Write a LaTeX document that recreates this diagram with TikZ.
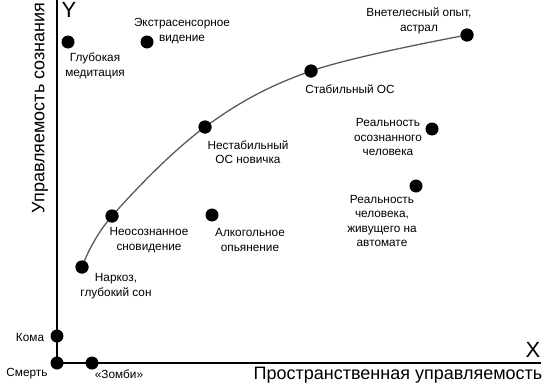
\documentclass[tikz,border=0pt]{standalone}
\usepackage{fontspec}
\setmainfont{Liberation Sans}
\usetikzlibrary{positioning}

\tikzset{
  dot/.style={circle, fill=black, inner sep=0pt, minimum size=13pt},
  lbl/.style={align=center, inner sep=0pt, font=\fontsize{11.8}{14.5}\selectfont},
  axtitle/.style={inner sep=0pt, font=\fontsize{18}{20}\selectfont},
  axletter/.style={inner sep=0pt, font=\fontsize{22}{24}\selectfont},
}

\begin{document}
\begin{tikzpicture}[x=1pt,y=-1pt]
\useasboundingbox (0,0) rectangle (548,388);
% axes
\coordinate (ytop) at (57,0);
\coordinate (xend) at (541,363);
\node[dot] (death) at (57,363) {};
\draw[line width=2.3pt] (ytop) -- (death.center) -- (xend);
\node[axletter] (ylet) at (69,10) {Y};
\node[axletter] (xlet) at (533,350) {X};
\node[axtitle, rotate=90] (ytitle) at (40,108) {Управляемость сознания};
\node[axtitle] (xtitle) at (398,375) {Пространственная управляемость};
% curve
\node[dot] (narkoz) at (82,267) {};
\node[dot] (dream) at (112,216) {};
\node[dot] (novice) at (205,127) {};
\node[dot] (stable) at (311,71) {};
\node[dot] (astral) at (467,35) {};
\draw[gray!70!black, line width=1.3pt] plot[smooth, tension=0.6] coordinates
  {(narkoz.center) (dream.center) (novice.center) (stable.center) (astral.center)};
\node[dot] (narkoz) at (82,267) {};
\node[dot] (dream) at (112,216) {};
\node[dot] (novice) at (205,127) {};
\node[dot] (stable) at (311,71) {};
\node[dot] (astral) at (467,35) {};
% other points
\node[dot] (coma) at (57,336) {};
\node[dot] (zombie) at (92,363) {};
\node[dot] (medit) at (68,42) {};
\node[dot] (extra) at (147,42) {};
\node[dot] (alco) at (212,215) {};
\node[dot] (aware) at (432,129) {};
\node[dot] (auto) at (416,186) {};
% labels
\node[lbl] (deathlbl) at (27,374) {Смерть};
\node[lbl] (comalbl) at (30,337) {Кома};
\node[lbl] (zombielbl) at (119,374) {«Зомби»};
\node[lbl] (narkozlbl) at (116,286) {Наркоз,\\глубокий сон};
\node[lbl] (dreamlbl) at (149,240) {Неосознанное\\сновидение};
\node[lbl] (alcolbl) at (250,240) {Алкогольное\\опьянение};
\node[lbl] (novicelbl) at (248,152) {Нестабильный\\ОС новичка};
\node[lbl] (stablelbl) at (350,89) {Стабильный ОС};
\node[lbl] (astrallbl) at (419,21) {Внетелесный опыт,\\астрал};
\node[lbl] (meditlbl) at (95,66) {Глубокая\\медитация};
\node[lbl] (extralbl) at (182,31) {Экстрасенсорное\\видение};
\node[lbl] (awarelbl) at (388,137) {Реальность\\осознанного\\человека};
\node[lbl] (autolbl) at (382,221) {Реальность\\человека,\\живущего на\\автомате};
\end{tikzpicture}
\end{document}
